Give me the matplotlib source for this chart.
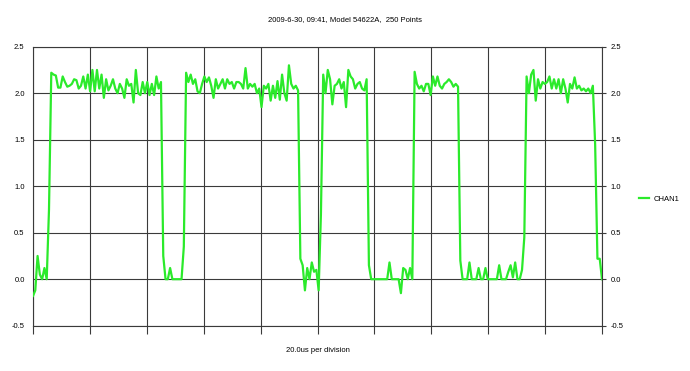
import numpy as np
import matplotlib
matplotlib.use('Agg')
import matplotlib.pyplot as plt

# oscilloscope samples, 250 points, 25 per division
start_low = [-0.18, -0.12, 0.25, 0.05, 0.0, 0.12, 0.0, 0.75]
high_1 = [2.22, 2.20, 2.19, 2.06, 2.06, 2.18, 2.12, 2.07, 2.08, 2.10,
          2.15, 2.14, 2.05, 2.08, 2.18, 2.05, 2.20, 2.02, 2.25, 2.02,
          2.25, 2.05, 2.20, 1.95, 2.15, 2.03, 2.08, 2.15, 2.05, 2.00,
          2.10, 2.05, 1.95, 2.15, 2.08, 2.10, 1.90, 2.25, 2.00, 1.98,
          2.12, 2.00, 2.12, 1.98, 2.10, 1.98, 2.18, 2.05, 2.12]
low_1 = [0.25, 0.0, 0.0, 0.12, 0.0, 0.0, 0.0, 0.0, 0.0, 0.35]
high_2 = [2.22, 2.12, 2.20, 2.10, 2.15, 2.02, 2.00, 2.10, 2.18, 2.12,
          2.17, 2.08, 1.95, 2.15, 2.05, 2.10, 2.15, 2.05, 2.15, 2.10,
          2.12, 2.05, 2.12, 2.12, 2.10, 2.05, 2.27, 2.05, 2.10, 2.07,
          2.10, 2.00, 2.05, 1.85, 2.08, 2.05, 2.10, 1.92, 2.08, 1.95,
          2.13, 1.93, 2.20, 2.00, 1.92, 2.30, 2.10, 2.05, 2.08, 2.03]
low_2 = [0.22, 0.15, -0.12, 0.12, 0.0, 0.18, 0.08, 0.10, -0.12, 0.70]
high_3 = [2.20, 2.00, 2.25, 2.15, 1.88, 2.08, 2.10, 2.15, 2.05, 2.12,
          1.85, 2.25, 2.18, 2.15, 2.05, 2.10, 2.12, 2.05, 2.03, 2.15]
low_3 = [0.15, 0.0, 0.0, 0.0, 0.0, 0.0, 0.0, 0.0, 0.0, 0.18,
         0.0, 0.0, 0.0, 0.0, -0.15, 0.12, 0.10, 0.0, 0.12, 0.0]
high_4 = [2.23, 2.10, 2.05, 2.08, 2.02, 2.10, 2.10, 1.98, 2.18, 2.08,
          2.18, 2.08, 2.05, 2.10, 2.12, 2.15, 2.12, 2.07, 2.10, 2.07]
low_4 = [0.20, 0.0, 0.0, 0.0, 0.18, 0.0, 0.0, 0.0, 0.12, 0.0,
         0.0, 0.12, 0.0, 0.0, 0.0, 0.0, 0.0, 0.15, 0.0, 0.0,
         0.0, 0.08, 0.15, 0.02, 0.18, 0.0, 0.0, 0.10, 0.45]
high_5 = [2.18, 2.00, 2.20, 2.25, 1.92, 2.15, 2.05, 2.12, 2.10, 2.12,
          2.18, 2.05, 2.15, 2.05, 2.15, 2.00, 2.15, 2.05, 1.90, 2.10,
          2.05, 2.17, 2.05, 2.08, 2.03, 2.05, 2.02, 2.05, 2.00, 2.08]
end_fall = [1.45, 0.22, 0.22, 0.0]

chan1 = np.array(start_low + high_1 + low_1 + high_2 + low_2 + high_3
                 + low_3 + high_4 + low_4 + high_5 + end_fall)
n_points = len(chan1)
samples = np.arange(n_points)

plt.rcParams['font.family'] = ['Liberation Sans', 'DejaVu Sans']

fig = plt.figure(figsize=(6.9, 3.71), dpi=100)
ax = fig.add_axes([33/690, 1-325.7/371, 569/690, 279/371])

ax.plot(samples, chan1, color='#2bea2b', lw=1.6, label='CHAN1', zorder=3)

ax.set_xlim(0, n_points - 1)
ax.set_ylim(-0.5, 2.5)
ax.set_xticks(np.linspace(0, n_points - 1, 11))
ax.set_xticklabels([])
ax.set_yticks(np.arange(-0.5, 2.51, 0.5))
ax.set_yticklabels(['%.1f' % v for v in np.arange(-0.5, 2.51, 0.5)])
ax.grid(True, color='#3a3a3a', lw=0.8)
for s in ax.spines.values():
    s.set_color('#3a3a3a')
    s.set_linewidth(0.8)

ax.tick_params(axis='x', direction='out', length=6, width=0.8, color='#3a3a3a')
ax.tick_params(axis='y', left=False, right=True, labelleft=True, labelright=True,
               length=3, width=0.8, pad=3, labelsize=5.5, color='#3a3a3a')

ax.set_xlabel('20.0us per division', fontsize=5.5, labelpad=5.5)
fig.text(0.5, 1 - 20/371, '2009-6-30, 09:41, Model 54622A,  250 Points',
         ha='center', va='center', fontsize=5.5)

ax.legend(loc='center left', bbox_to_anchor=(632/690, 1 - 199/371),
          bbox_transform=fig.transFigure, frameon=False, fontsize=5.5,
          handlelength=1.3, handletextpad=0.6)

plt.savefig('out.png', dpi=100)
